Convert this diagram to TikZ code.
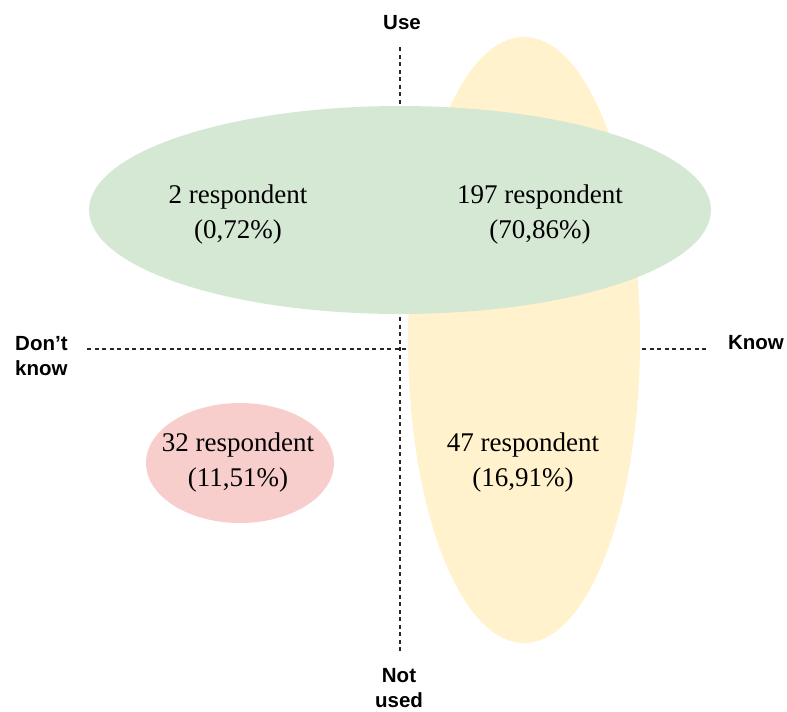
\documentclass[tikz,border=0pt]{standalone}
\usepackage{fontspec}
\setmainfont{Liberation Serif}
\setsansfont{Liberation Sans}
\usetikzlibrary{shapes.geometric}
\definecolor{usegreen}{HTML}{D5E8D4}
\definecolor{knowyellow}{HTML}{FFF2CC}
\definecolor{nonered}{HTML}{F8CECC}
\tikzstyle{blob} = [ellipse, inner sep=0pt, draw=none]
\tikzstyle{count} = [align=center, inner sep=0pt, font=\fontsize{27}{35}\selectfont]
\tikzstyle{axislabel} = [inner sep=0pt, font=\sffamily\bfseries\fontsize{20.5}{25}\selectfont]
\tikzstyle{axis} = [dash pattern=on 4pt off 3.5pt, line width=1.4pt, black!85]

\begin{document}
\begin{tikzpicture}[x=1pt, y=-1pt]
                \useasboundingbox (0,0) rectangle (787,712);
                \coordinate (vtop) at (400,47);
                \coordinate (vbot) at (400,651);
                \coordinate (hleft) at (87,349);
                \coordinate (hright) at (708,349);
                \draw[axis] (vtop) -- (vbot);
                \draw[axis] (hleft) -- (hright);
                \node[blob, fill=knowyellow, minimum width=232pt, minimum height=606pt] (know) at (524,340) {};
                \node[blob, fill=usegreen, minimum width=622pt, minimum height=208pt] (use) at (400,210) {};
                \node[blob, fill=nonered, minimum width=188pt, minimum height=120pt] (none) at (240,463) {};
                \node[count] (useonly) at (238,215) {2 respondent\\(0,72\%)};
                \node[count] (useknow) at (540,215) {197 respondent\\(70,86\%)};
                \node[count] (nouse) at (238,463) {32 respondent\\(11,51\%)};
                \node[count] (knowonly) at (523,463) {47 respondent\\(16,91\%)};
                \node[axislabel] (uselabel) at (402,23) {Use};
                \node[axislabel, align=center] (notusedlabel) at (399,688) {Not\\used};
                \node[axislabel, align=left, anchor=west] (dontknowlabel) at (15,356) {Don\symbol{39}t\\know};
                \node[axislabel] (knowlabel) at (756,343) {Know};
            \end{tikzpicture}
\end{document}
